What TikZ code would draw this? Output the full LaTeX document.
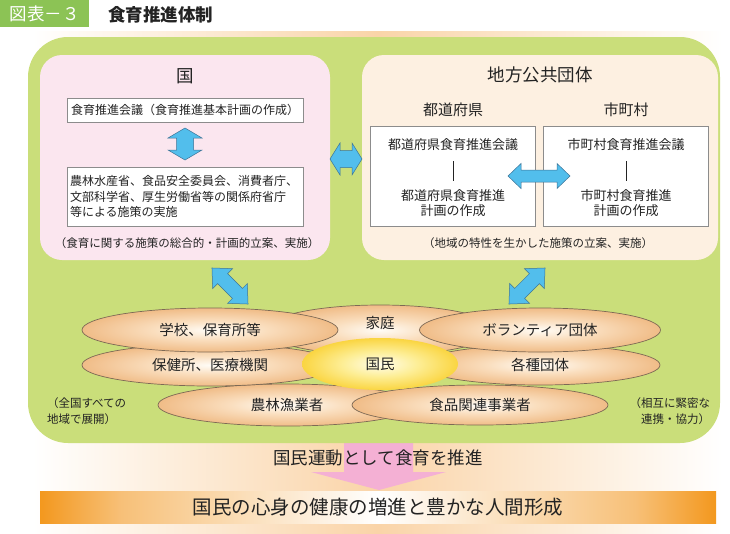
\documentclass[tikz,border=0pt]{standalone}
\usepackage{fontspec}
\setmainfont{Noto Sans CJK JP}
\usetikzlibrary{shapes.geometric}
\definecolor{hdrgreen}{RGB}{140,195,85}
\definecolor{biggreen}{RGB}{202,222,122}
\definecolor{kunipink}{RGB}{251,230,239}
\definecolor{chihocream}{RGB}{253,240,225}
\definecolor{arrowblue}{RGB}{82,190,236}
\definecolor{arrowedge}{RGB}{60,115,150}
\definecolor{ellout}{RGB}{240,188,135}
\definecolor{ellmid}{RGB}{250,222,190}
\definecolor{ellin}{RGB}{255,252,246}
\definecolor{ellline}{RGB}{125,105,85}
\definecolor{kokuout}{RGB}{250,213,65}
\definecolor{kokumid}{RGB}{253,238,150}
\definecolor{kokuin}{RGB}{255,253,235}
\definecolor{peach}{RGB}{250,212,168}
\definecolor{barO}{RGB}{243,152,30}
\definecolor{barL}{RGB}{247,192,120}
\definecolor{pinkarrow}{RGB}{244,176,212}
\definecolor{boxgray}{RGB}{140,140,140}
\definecolor{txt}{RGB}{35,35,35}
\pgfdeclarehorizontalshading{orbar}{100bp}{color(0bp)=(barO); color(25bp)=(barO); color(31bp)=(barL); color(50bp)=(white); color(69bp)=(barL); color(75bp)=(barO); color(100bp)=(barO)}
\pgfdeclareradialshading{ellshade}{\pgfpoint{0bp}{0bp}}{color(0bp)=(ellin); color(11bp)=(ellmid); color(25bp)=(ellout); color(50bp)=(ellout)}
\pgfdeclareradialshading{kokushade}{\pgfpoint{0bp}{0bp}}{color(0bp)=(kokuin); color(12bp)=(kokumid); color(25bp)=(kokuout); color(50bp)=(kokuout)}
\newcommand{\blockarrow}[7]{%
  \begin{scope}[shift={(#1,#2)},rotate=#3]
    \draw[blockarr] (-#4,0) -- (-#4+#7,#5) -- (-#4+#7,#6) -- (#4-#7,#6) -- (#4-#7,#5) -- (#4,0)
      -- (#4-#7,-#5) -- (#4-#7,-#6) -- (-#4+#7,-#6) -- (-#4+#7,-#5) -- cycle;
  \end{scope}}
\begin{document}
\begin{tikzpicture}[x=1pt,y=-1pt,
  every node/.style={inner sep=0pt, outer sep=0pt, text=txt},
  blockarr/.style={fill=arrowblue, draw=arrowedge, line width=0.5pt, line join=miter},
  whitebox/.style={draw=boxgray, line width=0.8pt, fill=white},
  ell/.style={ellipse, draw=ellline, line width=0.7pt, shading=ellshade},
  f115/.style={font=\fontsize{11.5}{15.5}\selectfont},
  f12/.style={font=\fontsize{12}{15.5}\selectfont},
  f13/.style={font=\fontsize{13}{14.5}\selectfont},
  f14/.style={font=\fontsize{14.5}{17}\selectfont},
  f15/.style={font=\fontsize{15}{18}\selectfont},
  f175/.style={font=\fontsize{17.5}{21}\selectfont},
  f195/.style={font=\fontsize{19.5}{23}\selectfont},
  vline/.style={draw=txt, line width=0.8pt}]
\useasboundingbox (0,0) rectangle (730,533);

% background band
\node[minimum width=689, minimum height=502, left color=white, right color=white, middle color=peach] (bg) at (377.5,282) {};

% pink arrow (under the green area)
\fill[pinkarrow] (344,430) -- (413,430) -- (413,472) -- (446,472) -- (379,490) -- (311,472) -- (344,472) -- cycle;

% header
\node[fill=hdrgreen, minimum width=89, minimum height=27, f175, text=white] (hdr) at (44.5,13.5) {図表－３};
\node[anchor=west, font=\fontsize{17.5}{21}\selectfont\bfseries] (title) at (108,15) {食育推進体制};

% green area
\node[fill=biggreen, rounded corners=40pt, minimum width=692, minimum height=406] (green) at (374,240) {};

% Kuni
\node[fill=kunipink, rounded corners=22pt, minimum width=290, minimum height=205] (kuni) at (185,157.5) {};
\node[f175] (kunititle) at (185,76) {国};
\node[whitebox, minimum width=236, minimum height=24, f12] (kaigi) at (185,110) {食育推進会議（食育推進基本計画の作成）};
\node[whitebox, minimum width=236, minimum height=59, f12, align=left, text width=230] (shocho) at (185,196.5)
  {農林水産省、食品安全委員会、消費者庁、\\文部科学省、厚生労働省等の関係府省庁\\等による施策の実施};
\node[f115] (kunicap) at (187,243) {（食育に関する施策の総合的・計画的立案、実施）};

% Chiho
\node[fill=chihocream, rounded corners=22pt, minimum width=356, minimum height=205] (chiho) at (540,157.5) {};
\node[f175] (chihotitle) at (540,75) {地方公共団体};
\node[f15] (todolabel) at (453,110) {都道府県};
\node[f15] (shilabel) at (626,110) {市町村};
\node[whitebox, minimum width=165, minimum height=100] (todobox) at (452.5,176) {};
\node[whitebox, minimum width=165, minimum height=100] (shibox) at (625.5,176) {};
\node[f13] (todokaigi) at (453,145) {都道府県食育推進会議};
\node[f13, align=center] (todokeikaku) at (453,203) {都道府県食育推進\\計画の作成};
\node[f13] (shikaigi) at (626,145) {市町村食育推進会議};
\node[f13, align=center] (shikeikaku) at (626,203) {市町村食育推進\\計画の作成};
\draw[vline, shorten <=10pt, shorten >=9pt] (todokaigi.south) -- (todokeikaku.north);
\draw[vline, shorten <=10pt, shorten >=9pt] (shikaigi.south) -- (shikeikaku.north);
\node[f115] (chihocap) at (538,243) {（地域の特性を生かした施策の立案、実施）};

% blue block arrows
\blockarrow{185}{144}{90}{16}{17}{8.5}{10}
\blockarrow{346}{159}{0}{16}{16}{8.5}{10}
\blockarrow{539}{176}{0}{31}{12.5}{6}{13}
\blockarrow{230}{286}{-45}{25.5}{14}{7}{15}
\blockarrow{527}{286}{45}{25.5}{14}{7}{15}

% ellipses
\node[ell, minimum width=230, minimum height=50] (katei) at (380,330) {};
\node[f14] (kateitext) at (380,323) {家庭};
\node[ell, minimum width=258, minimum height=42, f14] (nourin) at (287,405) {農林漁業者};
\node[ell, minimum width=256, minimum height=40, f14] (shokuhin) at (480,405) {食品関連事業者};
\node[ell, minimum width=256, minimum height=42, f14] (hoken) at (210,365) {保健所、医療機関};
\node[ell, minimum width=240, minimum height=40, f14] (kakushu) at (540,365) {各種団体};
\node[ell, minimum width=256, minimum height=44, f14] (gakko) at (210,330) {学校、保育所等};
\node[ell, minimum width=241, minimum height=44, f14] (volunteer) at (540,330) {ボランティア団体};
\node[ellipse, minimum width=156, minimum height=52, shading=kokushade, f14] (kokumin) at (380,364) {国民};

% side notes
\node[f115, anchor=west, align=left] (zenkoku) at (47,411) {（全国すべての\\地域で展開）};
\node[f115, anchor=east, align=right] (sougo) at (710,411) {（相互に緊密な\\連携・協力）};

% bottom
\node[f175] (undou) at (378,458) {国民運動として食育を推進};
\node[shading=orbar, minimum width=676, minimum height=32, f195] (goal) at (378,507) {国民の心身の健康の増進と豊かな人間形成};
\end{tikzpicture}
\end{document}
